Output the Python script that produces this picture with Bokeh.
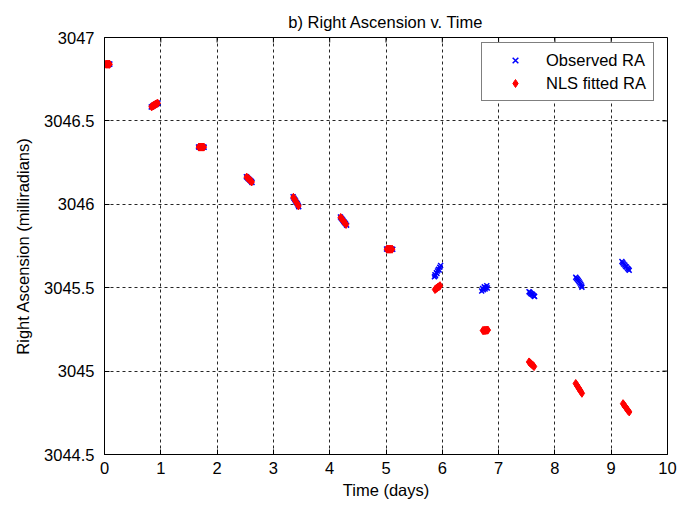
from bokeh.plotting import figure
from bokeh.models import Range1d, FixedTicker, LinearAxis, Legend, LegendItem, Grid
from bokeh.embed import file_html
from bokeh.resources import INLINE

# ---------------- data ----------------
title_text = "b) Right Ascension v. Time"
x_label = "Time (days)"
y_label = "Right Ascension (milliradians)"

x_ticks = [0, 1, 2, 3, 4, 5, 6, 7, 8, 9, 10]
y_ticks = [3044.5, 3045.0, 3045.5, 3046.0, 3046.5, 3047.0]
y_tick_labels = ["3044.5", "3045", "3045.5", "3046", "3046.5", "3047"]

obs_t = [
    0.02, 0.03, 0.045, 0.055, 0.07, 0.085, 0.095,
    0.83, 0.845, 0.86, 0.875, 0.89, 0.905, 0.92, 0.94, 0.95,
    1.67, 1.685, 1.70, 1.715, 1.73, 1.745, 1.76, 1.77,
    2.52, 2.535, 2.55, 2.565, 2.58, 2.595, 2.61, 2.62,
    3.35, 3.365, 3.38, 3.395, 3.41, 3.425, 3.44, 3.45,
    4.19, 4.205, 4.22, 4.235, 4.25, 4.265, 4.28, 4.30,
    5.01, 5.025, 5.04, 5.055, 5.07, 5.085, 5.10, 5.12,
    5.86, 5.87, 5.88, 5.895, 5.905, 5.915, 5.93, 5.945, 5.955, 5.97,
    6.70, 6.715, 6.73, 6.745, 6.76, 6.775, 6.79, 6.80,
    7.54, 7.555, 7.57, 7.585, 7.60, 7.615, 7.63, 7.64,
    8.37, 8.385, 8.40, 8.415, 8.43, 8.445, 8.46, 8.475, 8.48,
    9.19, 9.205, 9.22, 9.24, 9.255, 9.27, 9.29, 9.305, 9.32,
]
obs_ra = [
    3046.841, 3046.839, 3046.840, 3046.842, 3046.838, 3046.840, 3046.841,
    3046.583, 3046.587, 3046.590, 3046.593, 3046.596, 3046.599, 3046.602, 3046.605, 3046.608,
    3046.344, 3046.342, 3046.343, 3046.345, 3046.341, 3046.343, 3046.344, 3046.342,
    3046.165, 3046.160, 3046.155, 3046.151, 3046.146, 3046.141, 3046.136, 3046.131,
    3046.045, 3046.036, 3046.028, 3046.020, 3046.011, 3046.003, 3045.994, 3045.986,
    3045.924, 3045.917, 3045.911, 3045.904, 3045.897, 3045.891, 3045.884, 3045.875,
    3045.732, 3045.730, 3045.731, 3045.733, 3045.729, 3045.731, 3045.732, 3045.730,
    3045.565, 3045.578, 3045.572, 3045.590, 3045.585, 3045.600, 3045.610, 3045.606, 3045.622, 3045.633,
    3045.480, 3045.495, 3045.488, 3045.505, 3045.492, 3045.500, 3045.512, 3045.498,
    3045.476, 3045.472, 3045.466, 3045.462, 3045.460, 3045.455, 3045.450, 3045.447,
    3045.563, 3045.556, 3045.550, 3045.543, 3045.536, 3045.528, 3045.520, 3045.510, 3045.502,
    3045.657, 3045.650, 3045.642, 3045.636, 3045.628, 3045.624, 3045.616, 3045.610, 3045.604,
]

fit_t = [
    0.025, 0.04, 0.055, 0.07, 0.085, 0.09,
    0.835, 0.85, 0.865, 0.88, 0.895, 0.91, 0.925, 0.945,
    1.675, 1.69, 1.705, 1.72, 1.735, 1.75, 1.765,
    2.525, 2.54, 2.555, 2.57, 2.585, 2.60, 2.615,
    3.355, 3.37, 3.385, 3.40, 3.415, 3.43, 3.445,
    4.195, 4.21, 4.225, 4.24, 4.255, 4.27, 4.29,
    5.015, 5.03, 5.045, 5.06, 5.075, 5.09, 5.11,
    5.87, 5.885, 5.90, 5.915, 5.93, 5.945, 5.96,
    6.72, 6.735, 6.75, 6.765, 6.78, 6.795, 6.81,
    7.54, 7.555, 7.57, 7.585, 7.60, 7.615, 7.63,
    8.37, 8.385, 8.40, 8.415, 8.43, 8.445, 8.46, 8.48,
    9.21, 9.225, 9.24, 9.255, 9.27, 9.285, 9.30, 9.32,
]
fit_ra = [
    3046.840, 3046.840, 3046.840, 3046.840, 3046.840, 3046.840,
    3046.585, 3046.588, 3046.591, 3046.594, 3046.597, 3046.600, 3046.603, 3046.606,
    3046.343, 3046.343, 3046.343, 3046.343, 3046.343, 3046.343, 3046.343,
    3046.163, 3046.158, 3046.153, 3046.149, 3046.144, 3046.139, 3046.134,
    3046.042, 3046.033, 3046.025, 3046.016, 3046.008, 3045.999, 3045.990,
    3045.921, 3045.914, 3045.908, 3045.901, 3045.894, 3045.888, 3045.879,
    3045.731, 3045.731, 3045.731, 3045.731, 3045.731, 3045.731, 3045.731,
    3045.489, 3045.493, 3045.497, 3045.501, 3045.504, 3045.508, 3045.512,
    3045.243, 3045.243, 3045.244, 3045.244, 3045.245, 3045.245, 3045.246,
    3045.055, 3045.050, 3045.046, 3045.041, 3045.037, 3045.032, 3045.027,
    3044.926, 3044.918, 3044.910, 3044.902, 3044.894, 3044.886, 3044.878, 3044.867,
    3044.805, 3044.798, 3044.791, 3044.784, 3044.777, 3044.770, 3044.763, 3044.755,
]

# ---------------- figure ----------------
FONT = "Liberation Sans"
FS = "16.5px"
W, H = 678, 508
BL, BR, BT, BB = 104, 11, 37, 54

x0, x1 = x_ticks[0], x_ticks[-1]
y0, y1 = y_ticks[0], y_ticks[-1]

p = figure(width=W, height=H, output_backend="svg", toolbar_location=None,
           x_range=Range1d(x0, x1), y_range=Range1d(y0, y1),
           min_border_left=BL, min_border_right=BR, min_border_top=BT,
           min_border_bottom=BB, x_axis_type=None, y_axis_type=None)
p.background_fill_color = "white"
p.border_fill_color = "white"
p.outline_line_color = "black"
p.outline_line_width = 1

p.title.text = title_text
p.title.align = "center"
p.title.text_font = FONT
p.title.text_font_size = FS
p.title.text_font_style = "normal"
p.title.text_color = "black"
p.title.standoff = 14

xt = FixedTicker(ticks=x_ticks)
yt = FixedTicker(ticks=y_ticks)
overrides = dict(zip(y_ticks, y_tick_labels))


def style_axis(ax):
    ax.major_tick_in = 5
    ax.major_tick_out = 0
    ax.minor_tick_line_color = None
    ax.axis_line_color = "black"
    ax.major_tick_line_color = "black"
    ax.major_label_text_font = FONT
    ax.major_label_text_color = "black"
    ax.major_label_text_font_size = FS
    ax.axis_label_text_font = FONT
    ax.axis_label_text_font_size = FS
    ax.axis_label_text_font_style = "normal"
    ax.axis_label_text_color = "black"


xb = LinearAxis(ticker=xt, axis_label=x_label)
style_axis(xb)
xb.major_label_standoff = 7
xb.axis_label_standoff = 4
p.add_layout(xb, "below")

yl = LinearAxis(ticker=yt, axis_label=y_label)
style_axis(yl)
yl.major_label_overrides = overrides
yl.major_label_standoff = 10
yl.axis_label_standoff = 9
p.add_layout(yl, "left")

# dashed grid at every tick
for dim, tk in ((0, xt), (1, yt)):
    g = Grid(dimension=dim, ticker=tk)
    g.grid_line_color = "black"
    g.grid_line_alpha = 0.85
    g.grid_line_dash = "3 3"
    g.grid_line_width = 1
    p.add_layout(g, "center")

# inward ticks along the top and right edges of the box (5 px long)
fw = W - BL - BR
fh = H - BT - BB
tx = 5 * (x1 - x0) / fw
ty = 5 * (y1 - y0) / fh
p.segment(x0=x_ticks, y0=[y1] * len(x_ticks), x1=x_ticks, y1=[y1 - ty] * len(x_ticks),
          line_color="black", line_width=1)
p.segment(x0=[x1] * len(y_ticks), y0=y_ticks, x1=[x1 - tx] * len(y_ticks), y1=y_ticks,
          line_color="black", line_width=1)

r_obs = p.scatter(obs_t, obs_ra, marker="x", size=7, line_color="#0000ff",
                  fill_color="#0000ff", line_width=1.5)
r_fit = p.scatter(fit_t, fit_ra, marker="diamond", size=8, line_color="#ff0000",
                  fill_color="#ff0000", line_width=1)

legend = Legend(items=[LegendItem(label="Observed RA", renderers=[r_obs]),
                       LegendItem(label="NLS fitted RA", renderers=[r_fit])],
                location=(377, 353))
legend.label_text_font = FONT
legend.label_text_font_size = FS
legend.label_text_color = "black"
legend.border_line_color = "black"
legend.border_line_width = 1
legend.background_fill_color = "white"
legend.background_fill_alpha = 1
legend.padding = 7
legend.spacing = 3
legend.margin = 0
legend.label_height = 20
legend.glyph_height = 20
legend.glyph_width = 52
legend.label_standoff = 5
p.add_layout(legend)

open("out.html", "w").write(file_html(p, INLINE))
